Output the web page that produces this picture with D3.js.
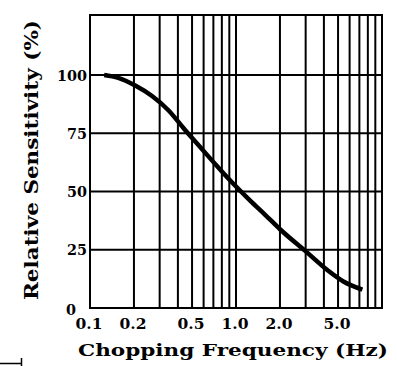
<!DOCTYPE html>
<html>
<head>
<meta charset="utf-8">
<script src="https://cdn.jsdelivr.net/npm/d3@7"></script>
<style>
  html, body { margin: 0; padding: 0; background: #fff; }
  svg { display: block; }
  text { font-family: "DejaVu Serif", "Liberation Serif", serif; font-weight: bold; fill: #000; }
</style>
</head>
<body>
<svg id="chart" width="397" height="366"></svg>
<script>
// ---- data ----
const freq = [0.125, 0.156, 0.204, 0.266, 0.343, 0.448, 0.568, 0.72, 0.913, 1.25, 1.59, 2.01, 2.98, 4.22, 5.44, 7.34];
const sensitivity = [100, 98.8, 95.5, 91.0, 85.0, 76.4, 69.1, 61.8, 54.7, 46.1, 39.9, 33.7, 24.5, 16.3, 11.4, 7.9];
const xTickValues = [0.1, 0.2, 0.5, 1, 2, 5];
const xTickLabels = ["0.1", "0.2", "0.5", "1.0", "2.0", "5.0"];
const yTickValues = [0, 25, 50, 75, 100];
const yTickLabels = ["0", "25", "50", "75", "100"];
const xGridValues = [0.1,0.2,0.3,0.4,0.5,0.6,0.7,0.8,0.9,1,2,3,4,5,6,7,8,9,10];
const xTitle = "Chopping Frequency (Hz)";
const yTitle = "Relative Sensitivity (%)";

// ---- layout ----
const mLeft = 90, mRight = 382, mTop = 15, mBottom = 308;
const svg = d3.select("#chart");

const x = d3.scaleLog().domain([0.1, 10]).range([mLeft, mRight]);
const y = d3.scaleLinear().domain([0, 100]).range([mBottom, 75]);

const g = svg.append("g");

// vertical grid
g.selectAll("line.vg").data(xGridValues).enter().append("line")
  .attr("x1", d => x(d)).attr("x2", d => x(d))
  .attr("y1", mTop).attr("y2", mBottom)
  .attr("stroke", "#000").attr("stroke-width", 2);

// horizontal grid
g.selectAll("line.hg").data(yTickValues).enter().append("line")
  .attr("x1", mLeft).attr("x2", mRight)
  .attr("y1", d => y(d)).attr("y2", d => y(d))
  .attr("stroke", "#000").attr("stroke-width", 2);

// frame
g.append("rect").attr("x", mLeft).attr("y", mTop)
  .attr("width", mRight - mLeft).attr("height", mBottom - mTop)
  .attr("fill", "none").attr("stroke", "#000").attr("stroke-width", 2);

// curve
const line = d3.line()
  .x((d, i) => x(freq[i]))
  .y(d => y(d))
  .curve(d3.curveMonotoneX);
g.append("path").datum(sensitivity)
  .attr("d", line)
  .attr("fill", "none").attr("stroke", "#000").attr("stroke-width", 4.5)
  .attr("stroke-linecap", "butt");

// y tick labels
g.selectAll("text.yt").data(yTickValues).enter().append("text")
  .attr("x", d => d === 0 ? 76 : 87)
  .attr("y", d => d === 0 ? y(d) + 7 : y(d) + 5.5)
  .attr("text-anchor", "end")
  .attr("font-size", 15)
  .attr("textLength", (d, i) => yTickLabels[i].length * 10)
  .attr("lengthAdjust", "spacingAndGlyphs")
  .text((d, i) => yTickLabels[i]);

// x tick labels
g.selectAll("text.xt").data(xTickValues).enter().append("text")
  .attr("x", d => x(d) - 1)
  .attr("y", 329)
  .attr("text-anchor", "middle")
  .attr("font-size", 14)
  .attr("textLength", 27)
  .attr("lengthAdjust", "spacingAndGlyphs")
  .text((d, i) => xTickLabels[i]);

// axis titles
svg.append("text")
  .attr("x", 78).attr("y", 356)
  .attr("font-size", 17)
  .attr("textLength", 310)
  .attr("lengthAdjust", "spacingAndGlyphs")
  .text(xTitle);

svg.append("text")
  .attr("transform", "translate(38,300) rotate(-90)")
  .attr("x", 0).attr("y", 0)
  .attr("font-size", 18)
  .attr("textLength", 280)
  .attr("lengthAdjust", "spacingAndGlyphs")
  .text(yTitle);

// small corner artifact
svg.append("path")
  .attr("d", "M0,363.5H22M21.5,358V366")
  .attr("fill", "none").attr("stroke", "#000").attr("stroke-width", 1.5);
</script>
</body>
</html>
